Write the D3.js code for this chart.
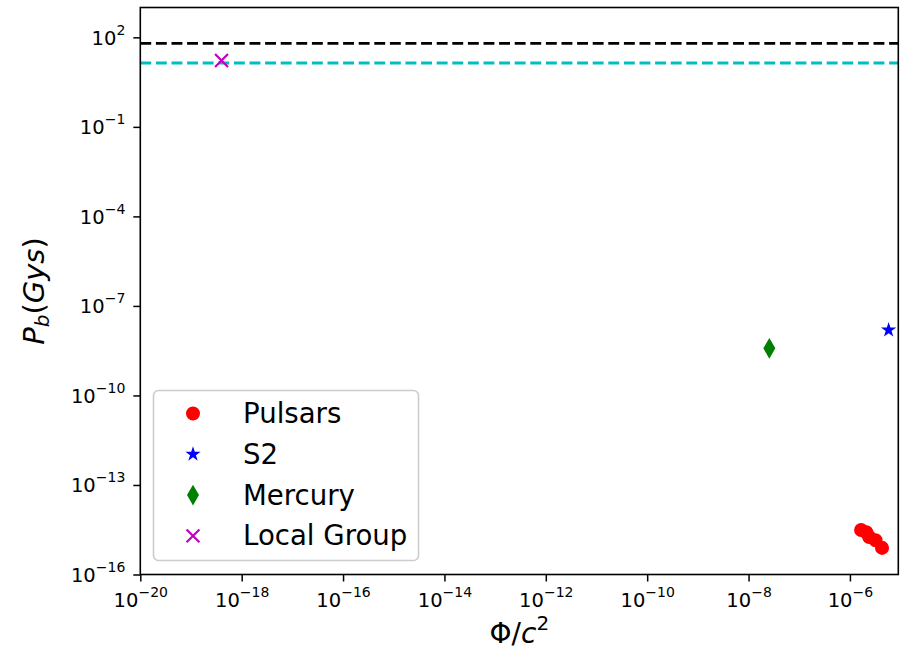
<!DOCTYPE html>
<html>
<head>
<meta charset="utf-8">
<script src="https://cdn.jsdelivr.net/npm/d3@7"></script>
<style>
  body { margin: 0; background: #fff; }
  text { font-family: "DejaVu Sans", sans-serif; }
</style>
</head>
<body>
<div id="chart"></div>
<script>
// tick exponents
const xTickExps = [-20, -18, -16, -14, -12, -10, -8, -6];
const yTickExps = [2, -1, -4, -7, -10, -13, -16];

// data (Phi/c^2, Pb in Gys)
const pulsarPhi = [1.66e-6, 2.1e-6, 2.4e-6, 3.2e-6, 4.3e-6];
const pulsarPb  = [3.1e-15, 2.6e-15, 1.8e-15, 1.4e-15, 7.8e-16];
const s2Phi = [5.8e-6];
const s2Pb  = [1.55e-8];
const mercuryPhi = [2.57e-8];
const mercuryPb  = [3.8e-9];
const localPhi = [4e-19];
const localPb  = [16.7];

// horizontal reference lines (Gys)
const refValues = [63, 13.8];
const refColors = ["#000000", "#00bfbf"];

const W = 902, H = 650;
const m = { left: 140.3, right: 3.7, top: 7.5, bottom: 75.5 };

const svg = d3.select("#chart").append("svg")
    .attr("width", W).attr("height", H);

const x = d3.scaleLog().domain([1e-20, 9e-6]).range([m.left, W - m.right]);
const y = d3.scaleLog().domain([1e-16, 1e3]).range([H - m.bottom, m.top]);

const minus = e => e < 0 ? "\u2212" + (-e) : String(e);

function powLabel(t, e) {
    t.text(null);
    t.append("tspan").text("10");
    t.append("tspan").attr("dy", -10).style("font-size", "14px").text(minus(e));
}

// reference lines
svg.append("g").selectAll("line")
    .data(refValues)
    .enter().append("line")
    .attr("x1", m.left).attr("x2", W - m.right)
    .attr("y1", d => y(d)).attr("y2", d => y(d))
    .attr("stroke", (d, i) => refColors[i])
    .attr("stroke-width", 2.9)
    .attr("stroke-dasharray", "10.9,4.7");

// axes
const xAxis = svg.append("g")
    .attr("transform", `translate(0,${H - m.bottom})`)
    .call(d3.axisBottom(x).tickValues(xTickExps.map(e => Math.pow(10, e))).tickSize(7).tickSizeOuter(0));
xAxis.selectAll(".tick text")
    .attr("y", 32).attr("dy", null)
    .style("font-size", "19.5px").attr("fill", "#000")
    .each(function(d, i) { powLabel(d3.select(this), xTickExps[i]); });

const yAxis = svg.append("g")
    .attr("transform", `translate(${m.left},0)`)
    .call(d3.axisLeft(y).tickValues(yTickExps.map(e => Math.pow(10, e))).tickSize(7).tickSizeOuter(0));
yAxis.selectAll(".tick text")
    .attr("x", -15).attr("dy", 7)
    .style("font-size", "19.5px").attr("fill", "#000")
    .each(function(d, i) { powLabel(d3.select(this), yTickExps[i]); });

svg.selectAll(".domain").remove();
svg.selectAll(".tick line").attr("stroke", "#000").attr("stroke-width", 1.5);

// frame
svg.append("rect")
    .attr("x", m.left).attr("y", m.top)
    .attr("width", W - m.right - m.left).attr("height", H - m.bottom - m.top)
    .attr("fill", "none").attr("stroke", "#000").attr("stroke-width", 1.6);

// point series
const series = [
    { name: "Pulsars", xs: pulsarPhi, ys: pulsarPb, type: d3.symbolCircle, size: 154, color: "#ff0000", stroke: false },
    { name: "S2", xs: s2Phi, ys: s2Pb, type: d3.symbolStar, size: 72, color: "#0000ff", stroke: false },
    { name: "Mercury", xs: mercuryPhi, ys: mercuryPb, type: d3.symbolDiamond, size: 125, color: "#008000", stroke: false },
    { name: "Local Group", xs: localPhi, ys: localPb, type: d3.symbolX, size: 110, color: "#bf00bf", stroke: true }
];

function drawSymbol(sel, s) {
    sel.attr("d", d3.symbol().type(s.type).size(s.size)())
        .attr("fill", s.stroke ? "none" : s.color)
        .attr("stroke", s.stroke ? s.color : "none")
        .attr("stroke-width", s.stroke ? 2.2 : 0);
}

series.forEach(s => {
    svg.append("g").selectAll("path")
        .data(s.xs.map((v, i) => [v, s.ys[i]]))
        .enter().append("path")
        .attr("transform", d => `translate(${x(d[0])},${y(d[1])})`)
        .call(drawSymbol, s);
});

// legend
const leg = svg.append("g");
leg.append("rect")
    .attr("x", 153.5).attr("y", 390.5).attr("width", 265).attr("height", 170)
    .attr("rx", 5).attr("fill", "#fff").attr("fill-opacity", 0.8)
    .attr("stroke", "#cccccc").attr("stroke-width", 1.6);

series.forEach((s, i) => {
    const cy = 413.5 + i * 40.8;
    leg.append("path")
        .attr("transform", `translate(193,${cy})`)
        .call(drawSymbol, s);
    leg.append("text")
        .attr("x", 243).attr("y", cy + 9.5)
        .style("font-size", "27.6px").attr("fill", "#000")
        .text(s.name);
});

// axis labels
const xl = svg.append("text")
    .attr("x", (m.left + W - m.right) / 2).attr("y", 643)
    .attr("text-anchor", "middle").style("font-size", "28px");
xl.append("tspan").text("\u03a6/");
xl.append("tspan").style("font-style", "italic").text("c");
xl.append("tspan").attr("dy", -13).style("font-size", "20px").text("2");

const yl = svg.append("text")
    .attr("transform", `translate(44,${(m.top + H - m.bottom) / 2}) rotate(-90)`)
    .attr("text-anchor", "middle").style("font-size", "29px");
yl.append("tspan").style("font-style", "italic").text("P");
yl.append("tspan").attr("dy", 5).style("font-style", "italic").style("font-size", "20px").text("b");
yl.append("tspan").attr("dy", -5).text("(");
yl.append("tspan").style("font-style", "italic").text("Gys");
yl.append("tspan").text(")");
</script>
</body>
</html>
